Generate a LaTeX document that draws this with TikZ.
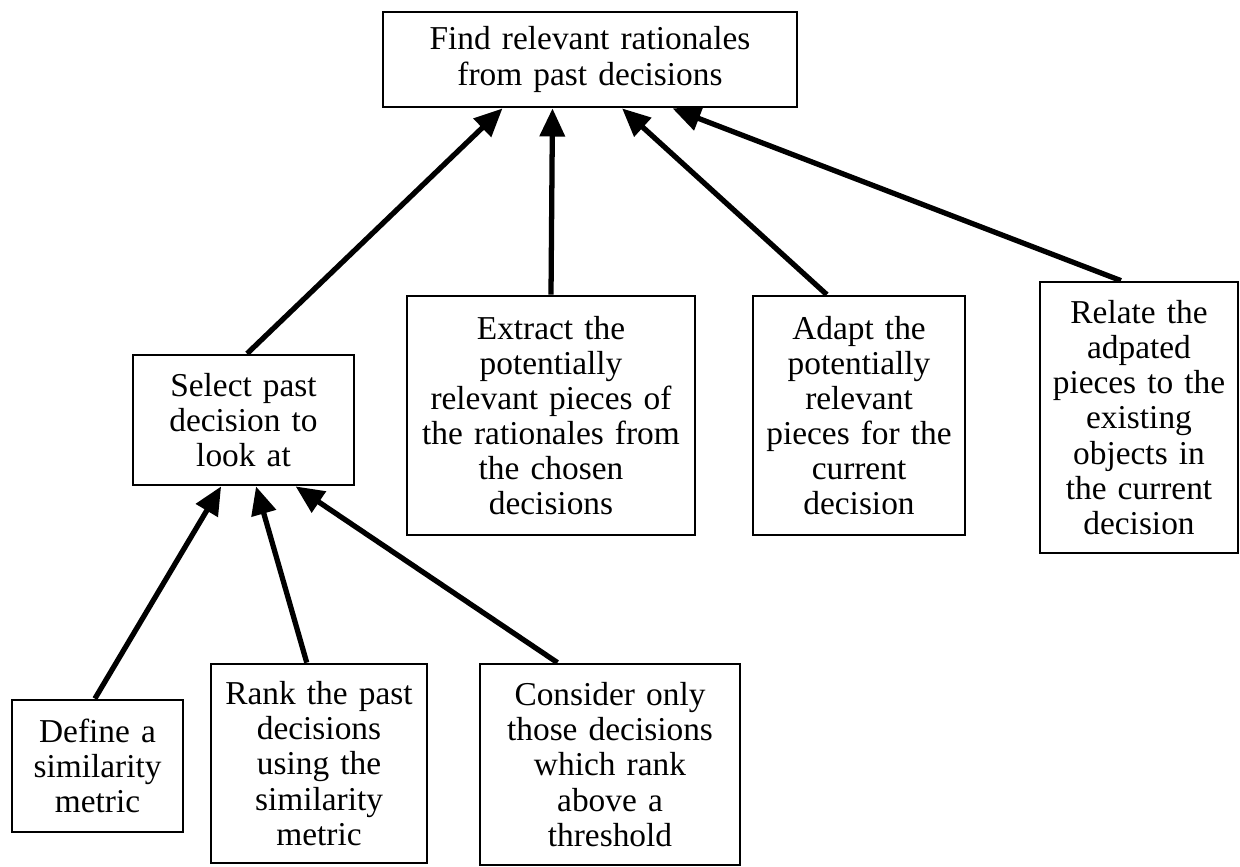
\documentclass[tikz,border=0pt]{standalone}
\usepackage{fontspec}
\setmainfont{Liberation Serif}
\usetikzlibrary{arrows.meta,calc}

\begin{document}
\begin{tikzpicture}[
    x=0.02cm, y=-0.02cm,
    every node/.style={font=\fontsize{19}{20}\selectfont},
    task/.style={draw, line width=1.6pt, align=center, inner sep=0.1cm},
    link/.style={line width=3pt, -{Triangle[length=16pt, width=14pt]}},
]
\useasboundingbox (0,0) rectangle (1240,866);

% Goal
\node[task, text width=8.08cm, minimum height=1.9cm] (goal) at (590,59.5)
    {Find relevant rationales\\from past decisions};

% Subgoals
\node[task, text width=4.22cm, minimum height=2.6cm] (sel) at (243.5,420)
    {Select past\\decision to\\look at};
\node[task, text width=5.56cm, minimum height=4.78cm] (extr) at (551,415.5)
    {Extract the\\potentially\\relevant pieces of\\the rationales from\\the chosen\\decisions};
\node[task, text width=4.04cm, minimum height=4.78cm] (adapt) at (859,415.5)
    {Adapt the\\potentially\\relevant\\pieces for the\\current\\decision};
\node[task, text width=3.76cm, minimum height=5.42cm] (relate) at (1139,417.5)
    {Relate the\\adpated\\pieces to the\\existing\\objects in\\the current\\decision};

% Steps for selecting
\node[task, text width=3.22cm, minimum height=2.64cm] (define) at (97.5,766)
    {Define a\\similarity\\metric};
\node[task, text width=4.12cm, minimum height=3.98cm] (rank) at (319,763.5)
    {Rank the past\\decisions\\using the\\similarity\\metric};
\node[task, text width=5.0cm, minimum height=4.02cm] (cons) at (610,764.5)
    {Consider only\\those decisions\\which rank\\above a\\threshold};

% Links: source/position on its top edge/target/position on its bottom edge
\foreach \src/\sa/\dst/\da in {sel/0.516/goal/0.29, extr/0.5/goal/0.41,
        adapt/0.35/goal/0.577, relate/0.41/goal/0.698,
        define/0.485/sel/0.40, rank/0.444/sel/0.556, cons/0.3/sel/0.733} {
    \draw[link] ($(\src.north west)!\sa!(\src.north east)$)
        -- ($(\dst.south west)!\da!(\dst.south east)$);
}

\end{tikzpicture}
\end{document}
